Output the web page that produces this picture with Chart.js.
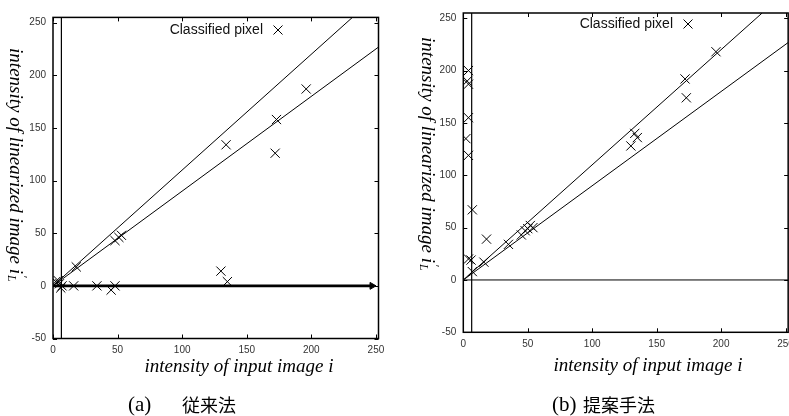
<!DOCTYPE html>
<html>
<head>
<meta charset="utf-8">
<script src="https://cdn.jsdelivr.net/npm/chart.js@4.4.1/dist/chart.umd.min.js"></script>
<style>
  html, body { margin: 0; padding: 0; background: #fff; overflow: hidden; }
  #wrap { position: relative; width: 789px; height: 416px; overflow: hidden; }
  .panel { position: absolute; top: 0; width: 400px; height: 416px; }
</style>
</head>
<body>
<div id="wrap">
  <div class="panel" style="left:0"><canvas id="chartA" width="400" height="416"></canvas></div>
  <div class="panel" style="left:400px"><canvas id="chartB" width="400" height="416"></canvas></div>
</div>
<script>
// (a) conventional method - classified pixels
const convX = [2, 4, 5, 7, 6, 16, 18, 34, 45, 48, 48, 51, 53, 130, 135, 134, 172, 173, 196];
const convY = [4, 5, 2, 0, -2, 0, 18, 0, -4, 0, 43, 46, 48, 14, 4, 134, 126, 158, 187];

// (b) proposed method - classified pixels
const propX = [4, 3, 4, 4, 2, 4, 7, 18, 4, 6, 16, 7, 35, 45, 48, 50, 52, 54, 130, 133, 135, 172, 173, 196];
const propY = [200, 190, 187, 155, 135, 119, 67, 39, 20, 19, 17, 8, 34, 43, 47, 49, 52, 50, 128, 140, 136, 192, 174, 218];

// axes
const xTicks = [0, 50, 100, 150, 200, 250];
const yTicks = [-50, 0, 50, 100, 150, 200, 250];
const xRange = [0, 252];
const yRange = [-50, 255];

// guide lines
const boundSlopes = [1.1, 0.9];
const thresholdX = 6.5;
const arrowEndX = 247;

const legendLabel = "Classified pixel";
const xTitle = "intensity of input image i";
const yTitle = "intensity of linearized image i";

Chart.defaults.font.family = "'Liberation Sans', Arial, sans-serif";

// draws the gnuplot style frame, inward ticks, legend, titles and caption
const decorPlugin = {
  id: "decor",
  afterDraw(chart) {
    const cfg = chart.options.plugins.decor;
    const ctx = chart.ctx;
    const area = chart.chartArea;
    const xs = chart.scales.x;
    const ys = chart.scales.y;
    const tick = 4;

    ctx.save();
    ctx.strokeStyle = "#000";
    ctx.lineWidth = 1.5;
    ctx.strokeRect(area.left, area.top, area.right - area.left, area.bottom - area.top);

    ctx.lineWidth = 1;
    ctx.beginPath();
    xTicks.forEach((v) => {
      const px = Math.round(xs.getPixelForValue(v)) + 0.5;
      ctx.moveTo(px, area.bottom);
      ctx.lineTo(px, area.bottom - tick);
      ctx.moveTo(px, area.top);
      ctx.lineTo(px, area.top + tick);
    });
    yTicks.forEach((v) => {
      const py = Math.round(ys.getPixelForValue(v)) + 0.5;
      ctx.moveTo(area.left, py);
      ctx.lineTo(area.left + tick, py);
      ctx.moveTo(area.right, py);
      ctx.lineTo(area.right - tick, py);
    });
    ctx.stroke();

    // legend
    ctx.fillStyle = "#111";
    ctx.font = "14px 'Liberation Sans', Arial, sans-serif";
    ctx.textAlign = "right";
    ctx.textBaseline = "middle";
    ctx.fillText(legendLabel, cfg.legend.x, cfg.legend.y);
    const cx = cfg.legend.x + 15;
    const r = 4.5;
    ctx.beginPath();
    ctx.moveTo(cx - r, cfg.legend.y - r);
    ctx.lineTo(cx + r, cfg.legend.y + r);
    ctx.moveTo(cx + r, cfg.legend.y - r);
    ctx.lineTo(cx - r, cfg.legend.y + r);
    ctx.stroke();

    // x title
    ctx.fillStyle = "#000";
    ctx.font = "italic 19px 'Liberation Serif', 'Times New Roman', serif";
    ctx.textAlign = "center";
    ctx.fillText(xTitle, cfg.xTitle.x, cfg.xTitle.y);

    // y title, reads top to bottom
    ctx.save();
    ctx.translate(cfg.yTitle.x, cfg.yTitle.y);
    ctx.rotate(Math.PI / 2);
    ctx.font = "italic 19px 'Liberation Serif', 'Times New Roman', serif";
    const wMain = ctx.measureText(yTitle).width;
    const total = wMain + 8;
    ctx.textAlign = "left";
    ctx.fillText(yTitle, -total / 2, 0);
    ctx.font = "italic 12px 'Liberation Serif', 'Times New Roman', serif";
    ctx.fillText("\u2032", -total / 2 + wMain + 1, -7);
    ctx.fillText("L", -total / 2 + wMain + 1, 4);
    ctx.restore();

    // caption
    ctx.textAlign = "left";
    ctx.font = "21px 'Liberation Serif', 'Times New Roman', serif";
    ctx.fillText(cfg.caption.tag, cfg.caption.x, cfg.caption.y);
    ctx.font = "18px 'Noto Sans CJK JP', sans-serif";
    ctx.fillText(cfg.caption.text, cfg.caption.x + cfg.caption.gap, cfg.caption.y);
    ctx.restore();
  },
};

function createPanel(canvas, xsData, ysData, cfg) {
  const points = xsData.map((x, i) => ({ x: x, y: ysData[i] }));
  const datasets = [];

  boundSlopes.forEach((s) => {
    const xEnd = Math.min(xRange[1], yRange[1] / s);
    datasets.push({
      data: [{ x: 0, y: 0 }, { x: xEnd, y: s * xEnd }],
      showLine: true,
      borderColor: "#000",
      borderWidth: 1,
      pointRadius: 0,
    });
  });

  datasets.push({
    data: [{ x: thresholdX, y: yRange[0] }, { x: thresholdX, y: yRange[1] }],
    showLine: true,
    borderColor: "#000",
    borderWidth: 1.2,
    pointRadius: 0,
  });

  if (cfg.arrow) {
    datasets.push({
      data: [{ x: 0, y: 0 }, { x: arrowEndX, y: 0 }],
      showLine: true,
      borderColor: "#000",
      backgroundColor: "#000",
      borderWidth: 2.6,
      pointRadius: [0, 4],
      pointStyle: "triangle",
      rotation: 90,
      pointBorderWidth: 1,
    });
  } else {
    datasets.push({
      data: [{ x: 0, y: 0 }, { x: xRange[1], y: 0 }],
      showLine: true,
      borderColor: "#000",
      borderWidth: 1,
      pointRadius: 0,
    });
  }

  datasets.push({
    data: points,
    pointStyle: "crossRot",
    pointRadius: 6.5,
    pointBorderWidth: 1,
    pointBorderColor: "#000",
    borderColor: "#000",
  });

  return new Chart(canvas.getContext("2d"), {
    type: "scatter",
    data: { datasets: datasets },
    options: {
      responsive: false,
      animation: false,
      events: [],
      layout: { padding: cfg.padding },
      plugins: {
        legend: { display: false },
        tooltip: { enabled: false },
        decor: cfg,
      },
      scales: {
        x: {
          type: "linear",
          min: xRange[0],
          max: xRange[1],
          afterBuildTicks: (axis) => {
            axis.ticks = xTicks.map((v) => ({ value: v }));
          },
          afterFit: (axis) => {
            axis.height = cfg.xAxisHeight;
          },
          grid: { display: false, drawTicks: false },
          border: { display: false },
          ticks: { padding: 6, color: "#333", font: { size: 10 }, maxRotation: 0, autoSkip: false },
        },
        y: {
          type: "linear",
          min: yRange[0],
          max: yRange[1],
          afterBuildTicks: (axis) => {
            axis.ticks = yTicks.map((v) => ({ value: v }));
          },
          afterFit: (axis) => {
            axis.width = cfg.yAxisWidth;
          },
          grid: { display: false, drawTicks: false },
          border: { display: false },
          ticks: { padding: 7, color: "#333", font: { size: 10 }, autoSkip: false },
        },
      },
    },
    plugins: [decorPlugin],
  });
}

createPanel(document.getElementById("chartA"), convX, convY, {
  padding: { top: 17.4, right: 21.5, bottom: 0, left: 0 },
  yAxisWidth: 53,
  xAxisHeight: 77.5,
  arrow: true,
  legend: { x: 263, y: 30 },
  xTitle: { x: 239, y: 367 },
  yTitle: { x: 15, y: 165 },
  caption: { tag: "(a)", text: "従来法", x: 128, y: 405, gap: 54 },
});

createPanel(document.getElementById("chartB"), propX, propY, {
  padding: { top: 9.7, right: 9.5, bottom: 0, left: 0 },
  yAxisWidth: 63.3,
  xAxisHeight: 83.7,
  arrow: false,
  legend: { x: 273, y: 24 },
  xTitle: { x: 248, y: 366 },
  yTitle: { x: 27, y: 154 },
  caption: { tag: "(b)", text: "提案手法", x: 152, y: 405, gap: 31 },
});
</script>
</body>
</html>
